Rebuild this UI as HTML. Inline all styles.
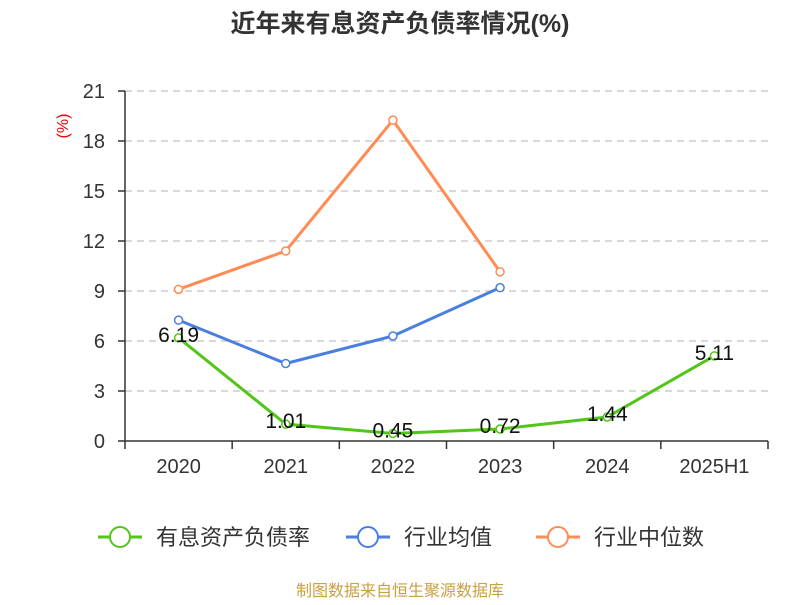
<!DOCTYPE html>
<html><head><meta charset="utf-8"><style>
body{margin:0;background:#fff;font-family:"Liberation Sans","Noto Sans CJK SC",sans-serif}
</style></head><body>
<svg id="c" width="800" height="600" xmlns="http://www.w3.org/2000/svg" style="font-family:'Liberation Sans','Noto Sans CJK SC',sans-serif">
<text x="400" y="32" text-anchor="middle" font-size="25" font-weight="bold" fill="#333">近年来有息资产负债率情况(%)</text>
<text transform="translate(68,126) rotate(-90)" text-anchor="middle" font-size="16" fill="#e00">(%)</text>
<g id="grid"></g><g id="axes"></g><g id="series"></g>
<g>
<g><line x1="98" y1="537" x2="142" y2="537" stroke="#52c41a" stroke-width="3"/><circle cx="120" cy="537" r="10" fill="#fff" stroke="#52c41a" stroke-width="2"/><text x="156" y="545" font-size="22" fill="#333">有息资产负债率</text></g>
<g><line x1="346" y1="537" x2="390" y2="537" stroke="#4a7fe0" stroke-width="3"/><circle cx="368" cy="537" r="10" fill="#fff" stroke="#4a7fe0" stroke-width="2"/><text x="404" y="545" font-size="22" fill="#333">行业均值</text></g>
<g><line x1="536" y1="537" x2="580" y2="537" stroke="#ff8c55" stroke-width="3"/><circle cx="558" cy="537" r="10" fill="#fff" stroke="#ff8c55" stroke-width="2"/><text x="594" y="545" font-size="22" fill="#333">行业中位数</text></g>
</g>
<text x="400" y="596" text-anchor="middle" font-size="16" fill="#c9a040">制图数据来自恒生聚源数据库</text>
</svg>
<script>
const categories=["2020","2021","2022","2023","2024","2025H1"];
const companyValues=[6.19,1.01,0.45,0.72,1.44,5.11];
const avgValues=[7.25,4.65,6.3,9.2];
const medianValues=[9.1,11.4,19.25,10.15];
const yTicks=[0,3,6,9,12,15,18,21];
const NS="http://www.w3.org/2000/svg";
const x0=125,x1=768,yb=441,yt=91,ymax=21;
const bw=(x1-x0)/categories.length;
const X=i=>x0+bw*(i+0.5);
const Y=v=>yb-(v/ymax)*(yb-yt);
function mk(parent,tag,attrs,text){const e=document.createElementNS(NS,tag);for(const k in attrs)e.setAttribute(k,attrs[k]);if(text!==undefined)e.textContent=text;document.getElementById(parent).appendChild(e);return e;}
yTicks.forEach(t=>{
 if(t>0){const g=mk('grid','line',{x1:x0,x2:x1,y1:Y(t),y2:Y(t),stroke:'#ccc','stroke-width':1.5,'stroke-dasharray':'7,5'});
 
 }
 const tk=mk('axes','line',{x1:x0-7,x2:x0,y1:Y(t),y2:Y(t),stroke:'#333','stroke-width':1.5});
 
 
 const l=mk('axes','text',{x:x0-20,y:Y(t)+7,'text-anchor':'end','font-size':20,fill:'#333'},t);
 
 
});
const ya=mk('axes','line',{x1:x0,x2:x0,y1:yt,y2:yb,stroke:'#333','stroke-width':1.5});


const xa=mk('axes','line',{x1:x0,x2:x1,y1:yb,y2:yb,stroke:'#333','stroke-width':1.5});


for(let i=0;i<=categories.length;i++){const t=mk('axes','line',{x1:x0+bw*i,x2:x0+bw*i,y1:yb,y2:yb+8,stroke:'#333','stroke-width':1.5});
 
 }
categories.forEach((c,i)=>{const l=mk('axes','text',{x:X(i),y:473,'text-anchor':'middle','font-size':20,fill:'#333'},c);
 
 });
function series(vals,color,name,labels){
 const p=mk('series','polyline',{points:vals.map((v,i)=>X(i)+','+Y(v)).join(' '),fill:'none',stroke:color,'stroke-width':3});
 
 
 vals.forEach((v,i)=>{const c=mk('series','circle',{cx:X(i),cy:Y(v),r:4,fill:'#fff',stroke:color,'stroke-width':1.5});
  
  
  if(labels){const t=mk('series','text',{x:X(i),y:Y(v)+4,'text-anchor':'middle','font-size':21,fill:'#111'},v.toFixed(2));
   
   }
 });
}
series(medianValues,'#ff8c55','industry-median',false);
series(avgValues,'#4a7fe0','industry-avg',false);
series(companyValues,'#52c41a','company',true);
</script>
</body></html>
